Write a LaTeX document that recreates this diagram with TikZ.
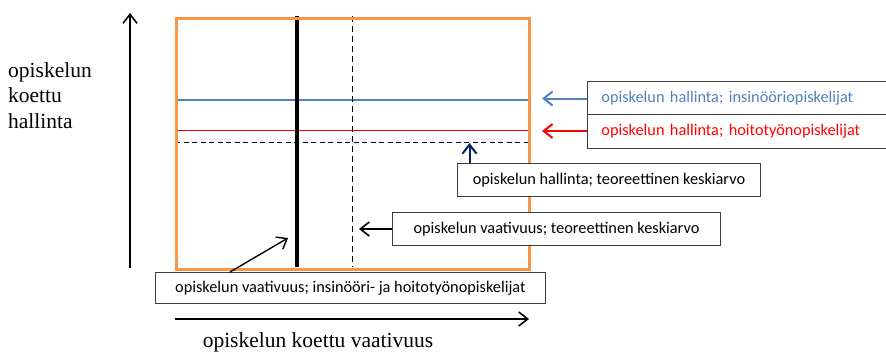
\documentclass[tikz,border=0pt]{standalone}
\usepackage{fontspec}
\setmainfont{Liberation Serif}
\newfontfamily\boxfont{Carlito}
\usetikzlibrary{arrows.meta}
\definecolor{frameorange}{RGB}{247,150,70}
\definecolor{lineblue}{RGB}{79,129,189}
\definecolor{navy}{RGB}{0,32,96}
\definecolor{boxgray}{RGB}{60,60,60}
\tikzset{
  axislabel/.style={font=\fontsize{21.5}{25.5}\selectfont, inner sep=0pt},
  legendbox/.style={draw=boxgray, line width=0.9pt, fill=white, inner sep=0pt,
    font=\boxfont\fontsize{16.3}{19}\selectfont},
  barb/.style={-{Straight Barb[length=9pt,width=14pt]}},
  axis/.style={line width=1.6pt, barb},
  guide/.style={line width=1pt, dash pattern=on 5pt off 3.5pt},
}
\begin{document}
\begin{tikzpicture}[x=1pt,y=-1pt]
\useasboundingbox (0,0) rectangle (886,351);

% axes
\coordinate (yb) at (130,268);
\coordinate (yt) at (130,13);
\coordinate (xl) at (175,319);
\coordinate (xr) at (529,319);
\draw[axis] (yb) -- (yt);
\draw[axis] (xl) -- (xr);
\node[axislabel, align=left, anchor=north west] (ylab) at (8,62)
  {opiskelun\\koettu\\hallinta};
\node[axislabel, anchor=center] (xlab) at (318,342) {opiskelun koettu vaativuus};

% horizontal levels
\coordinate (bl) at (175,100); \coordinate (br) at (528,100);
\coordinate (rl) at (175,130.5); \coordinate (rr) at (528,130.5);
\coordinate (dl) at (175,142); \coordinate (dr) at (528,142);
\draw[lineblue, line width=1.1pt] (bl) -- (br);
\draw[red, line width=1.1pt] (rl) -- (rr);
\draw[guide] (dl) -- (dr);

% vertical levels
\coordinate (vt) at (297,16); \coordinate (vb) at (297,267);
\coordinate (mt) at (352,16); \coordinate (mb) at (352,267);
\draw[line width=4pt] (vt) -- (vb);
\draw[line width=1pt, dash pattern=on 6pt off 4pt] (mt) -- (mb);

% frame
\node[draw=frameorange, line width=3pt, minimum width=353pt, minimum height=251pt,
  inner sep=0pt, anchor=north west] (frame) at (175,16.5) {};

% legend boxes
\node[legendbox, anchor=north west, minimum height=33pt, text width=271pt,
  inner xsep=14pt, align=left, text=lineblue] (lbblue) at (587,81)
  {opiskelun hallinta; insinööriopiskelijat};
\node[legendbox, anchor=north west, minimum height=34pt, text width=271pt,
  inner xsep=14pt, align=left, text=red] (lbred) at (587,114)
  {opiskelun hallinta; hoitotyönopiskelijat};
\node[legendbox, anchor=north west, minimum width=303pt, minimum height=33pt]
  (lbmean) at (457,163) {opiskelun hallinta; teoreettinen keskiarvo};
\node[legendbox, anchor=north west, minimum width=328pt, minimum height=33pt]
  (lbdem) at (392,212) {opiskelun vaativuus; teoreettinen keskiarvo};
\node[legendbox, anchor=north west, minimum width=390pt, minimum height=31pt]
  (lbboth) at (155,272) {opiskelun vaativuus; insinööri- ja hoitotyönopiskelijat};

% pointers
\coordinate (tblue) at (542,98.5);
\coordinate (tred) at (542,131);
\coordinate (tmean) at (469.5,143);
\coordinate (tdem) at (359,229);
\coordinate (tboth) at (288,238);
\draw[barb, lineblue, line width=2pt] (lbblue.west |- tblue) -- (tblue);
\draw[barb, red, line width=2pt] (lbred.west |- tred) -- (tred);
\draw[barb, navy, line width=2pt] (tmean |- lbmean.north) -- (tmean);
\draw[barb, line width=1.6pt] (lbdem.west |- tdem) -- (tdem);
\draw[barb, line width=1.4pt] (230,272) -- (tboth);
\end{tikzpicture}
\end{document}
